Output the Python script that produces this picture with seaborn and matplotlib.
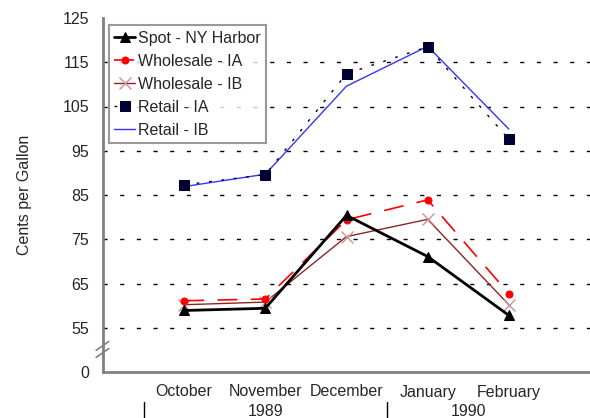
import numpy as np
import pandas as pd
import matplotlib
matplotlib.use("Agg")
import matplotlib.pyplot as plt
import seaborn as sns

months = ["October", "November", "December", "January", "February"]
years = ["1989", "1990"]
spot_ny = [58.9, 59.4, 80.4, 71.1, 57.8]
wholesale_ia = [61.1, 61.5, 79.4, 83.9, 62.7]
wholesale_ib = [60.2, 60.8, 75.6, 79.5, 60.2]
retail_ia = [87.3, 89.6, 112.4, 118.5, 97.6]
retail_ib = [86.9, 89.7, 109.6, 118.6, 99.9]
ytick_vals = [55, 65, 75, 85, 95, 105, 115, 125]

sns.set_style("white")
plt.rcParams["font.family"] = ["Liberation Sans", "DejaVu Sans"]

xpos = np.arange(1, len(months) + 1)
df = pd.DataFrame({"x": xpos, "spot": spot_ny, "wia": wholesale_ia,
                   "wib": wholesale_ib, "ria": retail_ia, "rib": retail_ib})

fig = plt.figure(figsize=(5.9, 4.18), dpi=100)
ax = fig.add_axes([103 / 590, 46 / 418, 487 / 590, 354 / 418])

sns.lineplot(data=df, x="x", y="rib", ax=ax, color="#3535ff", lw=1.0,
             label="Retail - IB", zorder=3)
sns.lineplot(data=df, x="x", y="ria", ax=ax, color="#000033", lw=1.0,
             linestyle=(0, (2, 7)), marker="s", markersize=7,
             markeredgecolor="#000033", label="Retail - IA", zorder=4)
sns.lineplot(data=df, x="x", y="wib", ax=ax, color="#8b2525", lw=1.0,
             marker="x", markersize=8, markeredgecolor="#d09090",
             markeredgewidth=1.0, label="Wholesale - IB", zorder=3)
sns.lineplot(data=df, x="x", y="wia", ax=ax, color="#ff0000", lw=1.2,
             linestyle=(0, (12, 8)), marker="o", markersize=5,
             markeredgecolor="#ff0000", label="Wholesale - IA", zorder=4)
sns.lineplot(data=df, x="x", y="spot", ax=ax, color="black", lw=2.0,
             marker="^", markersize=7, markeredgecolor="black",
             label="Spot - NY Harbor", zorder=5)

# broken axis: bottom tick stands for zero
base = ytick_vals[0] - 10
ax.set_ylim(base, ytick_vals[-1])
ax.set_yticks([base] + ytick_vals)
ax.set_yticklabels(["0"] + [str(v) for v in ytick_vals])
ax.set_xlim(0, len(months) + 1)
ax.set_xticks(np.arange(0, len(months) + 1))
ax.set_xticklabels([""] + months)

for v in ytick_vals[:-1]:
    ax.axhline(v, color="black", lw=1.0, linestyle=(0, (3, 9)), zorder=1)

for side in ["top", "right"]:
    ax.spines[side].set_visible(False)
for side in ["left", "bottom"]:
    ax.spines[side].set_color("#808080")
    ax.spines[side].set_linewidth(2.0)
ax.tick_params(axis="both", direction="out", length=7, width=1.2,
               color="#808080", labelsize=11.5, pad=3)
ax.tick_params(axis="x", length=6, pad=3)

ax.set_xlabel("")
ax.set_ylabel("Cents per Gallon", fontsize=11.5, labelpad=22)

# break marks on the y axis
for dy in [0, 1.6]:
    ax.plot([-0.014, 0.012], [base + 3.3 + dy, base + 5.3 + dy],
            transform=ax.get_yaxis_transform(), color="#808080", lw=1.2,
            clip_on=False, zorder=6)

# year labels under the months
trans = ax.get_xaxis_transform()
ax.text(2, -0.112, years[0], transform=trans, ha="center", va="center",
        fontsize=11.5)
ax.text(4.5, -0.112, years[1], transform=trans, ha="center", va="center",
        fontsize=11.5)
for xs in [0.5, 3.5]:
    ax.plot([xs, xs], [-0.085, -0.135], transform=trans, color="black",
            lw=1.0, clip_on=False)

handles, labels = ax.get_legend_handles_labels()
order = ["Spot - NY Harbor", "Wholesale - IA", "Wholesale - IB",
         "Retail - IA", "Retail - IB"]
hmap = dict(zip(labels, handles))
leg = ax.legend([hmap[k] for k in order], order, loc="upper left",
                bbox_to_anchor=(0.012, 0.98), fontsize=11.5,
                frameon=True, fancybox=False, edgecolor="#808080",
                handlelength=1.3, handletextpad=0.15, labelspacing=0.5,
                borderpad=0.35, borderaxespad=0)
leg.get_frame().set_linewidth(1.5)

fig.savefig("out.png", dpi=100)
